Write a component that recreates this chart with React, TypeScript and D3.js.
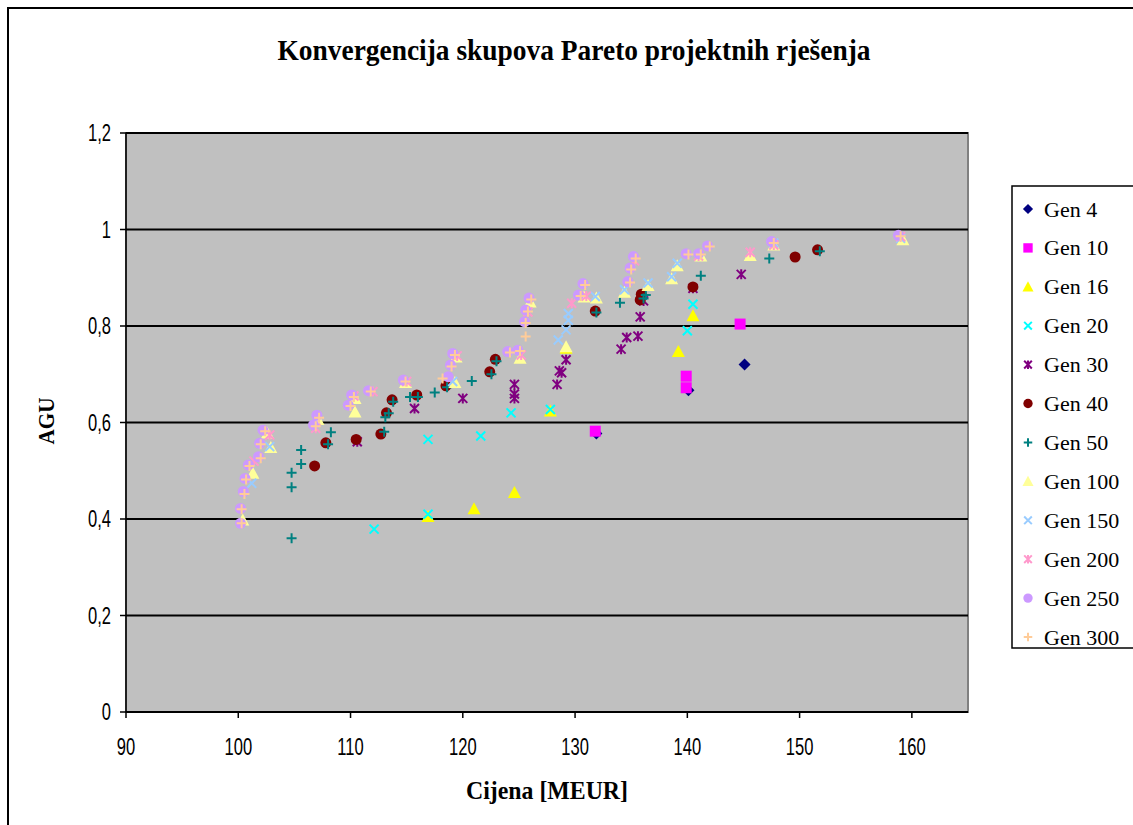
import React from "react";
import * as d3 from "d3";

type Pt = [number, number];

const gen4: Pt[] = [[131.9, 0.577], [140.1, 0.667], [145.1, 0.720]];
const gen10: Pt[] = [[131.8, 0.582], [139.9, 0.672], [139.9, 0.696], [144.7, 0.804]];
const gen16: Pt[] = [[116.9, 0.405], [121.0, 0.421], [124.6, 0.455], [127.8, 0.624], [129.2, 0.754], [139.2, 0.747], [140.5, 0.821]];
const gen20: Pt[] = [[112.1, 0.379], [116.9, 0.410], [116.9, 0.565], [121.6, 0.572], [124.3, 0.620], [127.8, 0.627], [140.0, 0.790], [140.5, 0.845]];
const gen30: Pt[] = [[110.6, 0.560], [115.7, 0.629], [120.0, 0.650], [124.6, 0.679], [124.6, 0.659], [124.6, 0.650], [128.4, 0.679], [128.6, 0.707], [128.8, 0.703], [129.2, 0.730], [134.1, 0.752], [134.6, 0.776], [135.6, 0.779], [135.8, 0.819], [136.1, 0.852], [140.5, 0.878], [144.8, 0.907]];
const gen40: Pt[] = [[106.8, 0.510], [107.8, 0.558], [110.5, 0.565], [112.7, 0.576], [113.2, 0.620], [113.7, 0.647], [115.9, 0.657], [118.5, 0.676], [122.4, 0.705], [122.9, 0.731], [131.8, 0.831], [135.8, 0.854], [135.9, 0.866], [140.5, 0.881], [149.6, 0.943], [151.6, 0.958]];
const gen50: Pt[] = [[104.75, 0.360], [104.75, 0.466], [104.75, 0.496], [105.6, 0.514], [105.6, 0.543], [108.0, 0.555], [108.25, 0.580], [113.0, 0.581], [113.1, 0.611], [113.4, 0.619], [113.8, 0.643], [115.3, 0.653], [116.0, 0.653], [117.5, 0.662], [118.6, 0.673], [120.8, 0.686], [122.55, 0.700], [123.0, 0.727], [131.9, 0.828], [134.0, 0.848], [136.1, 0.857], [136.3, 0.864], [141.2, 0.904], [147.3, 0.940], [151.8, 0.955]];
const gen100: Pt[] = [[100.4, 0.398], [101.3, 0.495], [102.9, 0.548], [102.6, 0.578], [107.1, 0.606], [110.4, 0.622], [110.4, 0.650], [114.9, 0.683], [119.3, 0.683], [119.4, 0.736], [125.1, 0.733], [126.0, 0.850], [129.2, 0.757], [130.8, 0.860], [131.9, 0.858], [134.4, 0.870], [136.5, 0.884], [138.6, 0.898], [139.1, 0.925], [141.2, 0.945], [145.6, 0.946], [147.7, 0.968], [159.2, 0.979]];
const gen150: Pt[] = [[101.2, 0.474], [102.8, 0.550], [119.1, 0.685], [128.5, 0.771], [129.2, 0.792], [129.4, 0.812], [129.4, 0.826], [131.8, 0.861], [134.4, 0.875], [136.5, 0.889], [138.6, 0.902], [139.1, 0.930], [147.7, 0.972], [159.0, 0.982]];
const gen200: Pt[] = [[101.4, 0.520], [102.8, 0.574], [106.9, 0.588], [110.3, 0.655], [112.0, 0.664], [115.0, 0.685], [119.5, 0.738], [125.2, 0.740], [125.8, 0.829], [129.7, 0.847], [131.0, 0.862], [135.3, 0.935], [141.0, 0.945], [145.6, 0.953], [147.7, 0.968], [159.0, 0.985]];
const gen250: Pt[] = [[100.2, 0.391], [100.2, 0.422], [100.45, 0.457], [100.6, 0.484], [100.9, 0.512], [101.8, 0.529], [101.9, 0.557], [102.2, 0.584], [106.7, 0.595], [107.0, 0.615], [109.8, 0.636], [110.1, 0.657], [111.6, 0.666], [114.7, 0.688], [118.7, 0.695], [118.9, 0.719], [119.1, 0.743], [124.0, 0.747], [124.9, 0.750], [125.5, 0.809], [125.6, 0.833], [125.9, 0.858], [130.3, 0.864], [130.7, 0.888], [134.7, 0.892], [134.9, 0.920], [135.2, 0.944], [139.9, 0.950], [141.0, 0.950], [141.8, 0.966], [147.5, 0.975], [158.8, 0.988]];
const gen300: Pt[] = [[100.3, 0.391], [100.3, 0.420], [100.55, 0.452], [100.7, 0.482], [101.0, 0.510], [102.0, 0.526], [102.0, 0.555], [102.4, 0.582], [106.9, 0.592], [107.2, 0.610], [110.0, 0.634], [110.3, 0.653], [111.8, 0.664], [114.9, 0.685], [118.2, 0.691], [119.0, 0.716], [119.3, 0.740], [124.2, 0.745], [125.1, 0.748], [125.6, 0.778], [125.6, 0.806], [125.8, 0.830], [126.1, 0.855], [130.5, 0.862], [130.9, 0.885], [134.9, 0.890], [135.0, 0.917], [135.4, 0.940], [140.1, 0.948], [141.2, 0.948], [142.0, 0.965], [147.7, 0.972], [159.0, 0.986]];

const seriesNames = ["Gen 4", "Gen 10", "Gen 16", "Gen 20", "Gen 30", "Gen 40", "Gen 50", "Gen 100", "Gen 150", "Gen 200", "Gen 250", "Gen 300"];
const seriesData = [gen4, gen10, gen16, gen20, gen30, gen40, gen50, gen100, gen150, gen200, gen250, gen300];
const seriesColors = ["#000080", "#FF00FF", "#FFFF00", "#00FFFF", "#800080", "#800000", "#008080", "#FFFF99", "#99CCFF", "#FF99CC", "#CC99FF", "#FFCC99"];
const seriesShapes = ["diamond", "square", "triangle", "x", "star", "circle", "plus", "triangle", "x", "star", "circle", "plus"];

const xTicks = [90, 100, 110, 120, 130, 140, 150, 160];
const yTicks = [0, 0.2, 0.4, 0.6, 0.8, 1, 1.2];
const yTickLabels = ["0", "0,2", "0,4", "0,6", "0,8", "1", "1,2"];

const L = 126, R = 968, T = 133, B = 712;
const SANS = "'Liberation Sans', Arial, sans-serif";
const SERIF = "'Liberation Serif', 'Times New Roman', serif";

function Marker({ shape, color, x, y, s = 1 }: { shape: string; color: string; x: number; y: number; s?: number }) {
  const h = 5 * s;
  switch (shape) {
    case "diamond":
      return <path d={`M${x},${y - 6 * s}L${x + 6 * s},${y}L${x},${y + 6 * s}L${x - 6 * s},${y}Z`} fill={color} />;
    case "square":
      return <rect x={x - 5.5 * s} y={y - 5.5 * s} width={11 * s} height={11 * s} fill={color} />;
    case "triangle":
      return <path d={`M${x},${y - 6.5 * s}L${x + 6.5 * s},${y + 5.5 * s}L${x - 6.5 * s},${y + 5.5 * s}Z`} fill={color} />;
    case "x":
      return <path d={`M${x - 4.5 * s},${y - 4.5 * s}L${x + 4.5 * s},${y + 4.5 * s}M${x - 4.5 * s},${y + 4.5 * s}L${x + 4.5 * s},${y - 4.5 * s}`} stroke={color} strokeWidth={2} fill="none" />;
    case "star":
      return <path d={`M${x - 4.5 * s},${y - 4.5 * s}L${x + 4.5 * s},${y + 4.5 * s}M${x - 4.5 * s},${y + 4.5 * s}L${x + 4.5 * s},${y - 4.5 * s}M${x},${y - 5 * s}L${x},${y + 5 * s}`} stroke={color} strokeWidth={2} fill="none" />;
    case "circle":
      return <circle cx={x} cy={y} r={5.5 * s} fill={color} />;
    case "plus":
      return <path d={`M${x - h},${y}L${x + h},${y}M${x},${y - h}L${x},${y + h}`} stroke={color} strokeWidth={2} fill="none" />;
  }
  return null;
}

export default function App() {
  const x = d3.scaleLinear().domain([90, 165]).range([L, R]);
  const y = d3.scaleLinear().domain([0, 1.2]).range([B, T]);
  const legendY = d3.scalePoint<string>().domain(seriesNames).range([209, 637]);

  return (
    <svg width={1133} height={825} style={{ position: "absolute", left: 0, top: 0, background: "#fff" }}>
      <rect x={8} y={8} width={1200} height={900} fill="#fff" stroke="#000" strokeWidth={2} />
      <text x={574} y={60} textAnchor="middle" fontFamily={SERIF} fontWeight="bold" fontSize={29} textLength={593} lengthAdjust="spacingAndGlyphs">Konvergencija skupova Pareto projektnih rješenja</text>

      <rect x={L} y={T} width={R - L} height={B - T} fill="#C0C0C0" stroke="#808080" strokeWidth={2} />
      {yTicks.filter(v => v > 0).map(v => (
        <line key={v} x1={L} x2={R} y1={y(v)} y2={y(v)} stroke="#000" strokeWidth={2} />
      ))}
      <line x1={L} x2={L} y1={T} y2={B} stroke="#000" strokeWidth={1.5} />
      <line x1={L} x2={R} y1={B} y2={B} stroke="#000" strokeWidth={2} />
      {yTicks.map((v, i) => (
        <g key={"y" + v}>
          <line x1={L - 6} x2={L} y1={y(v)} y2={y(v)} stroke="#000" strokeWidth={1.5} />
          <text transform={`translate(${L - 15},${y(v) + 8}) scale(0.72,1)`} textAnchor="end" fontFamily={SANS} fontSize={23}>{yTickLabels[i]}</text>
        </g>
      ))}
      {xTicks.map(v => (
        <g key={"x" + v}>
          <line x1={x(v)} x2={x(v)} y1={B} y2={B + 6} stroke="#000" strokeWidth={1.5} />
          <text transform={`translate(${x(v)},${B + 43}) scale(0.72,1)`} textAnchor="middle" fontFamily={SANS} fontSize={23}>{v}</text>
        </g>
      ))}
      <text x={(L + R) / 2} y={799} textAnchor="middle" fontFamily={SERIF} fontWeight="bold" fontSize={25} textLength={162} lengthAdjust="spacingAndGlyphs">Cijena [MEUR]</text>
      <text transform={`translate(54,${421}) rotate(-90)`} textAnchor="middle" fontFamily={SERIF} fontWeight="bold" fontSize={24} textLength={47} lengthAdjust="spacingAndGlyphs">AGU</text>

      {seriesData.map((data, si) => (
        <g key={seriesNames[si]}>
          {data.map((d, i) => (
            <Marker key={i} shape={seriesShapes[si]} color={seriesColors[si]} x={x(d[0])} y={y(d[1])} />
          ))}
        </g>
      ))}

      <rect x={1012} y={186} width={140} height={462} fill="#fff" stroke="#000" strokeWidth={1.5} />
      {seriesNames.map((n, i) => (
        <g key={"lg" + n}>
          <Marker shape={seriesShapes[i]} color={seriesColors[i]} x={1028} y={legendY(n)!} s={0.85} />
          <text x={1044} y={legendY(n)! + 7.5} fontFamily={SERIF} fontSize={22}>{n}</text>
        </g>
      ))}
    </svg>
  );
}
